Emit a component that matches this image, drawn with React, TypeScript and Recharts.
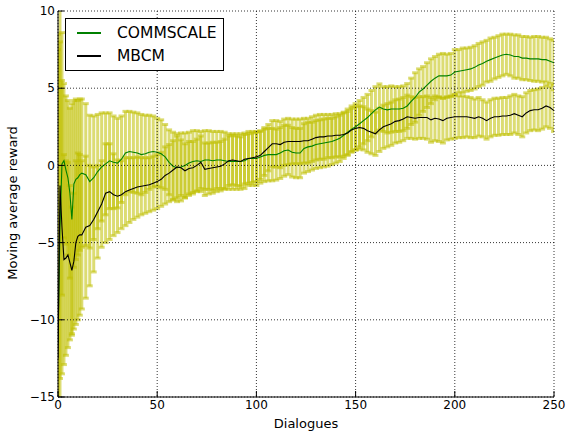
import {
  ComposedChart,
  Line,
  ErrorBar,
  XAxis,
  YAxis,
  CartesianGrid,
  Label,
} from 'recharts'

const dialogues = [
  0, 1, 2, 3, 4, 5, 6, 7, 8, 9, 10, 11, 12,
  14, 16, 18, 20, 22, 24, 26, 28, 30,
  32, 34, 36, 38, 40, 42, 44, 46, 48, 50,
  52, 54, 56, 58, 60, 62, 64, 66, 68, 70,
  72, 74, 76, 78, 80, 82, 84, 86, 88, 90,
  92, 94, 96, 98, 100, 102, 104, 106, 108, 110,
  112, 114, 116, 118, 120, 122, 124, 126, 128, 130,
  132, 134, 136, 138, 140, 142, 144, 146, 148, 150,
  152, 154, 156, 158, 160, 162, 164, 166, 168, 170,
  172, 174, 176, 178, 180, 182, 184, 186, 188, 190,
  192, 194, 196, 198, 200, 202, 204, 206, 208, 210,
  212, 214, 216, 218, 220, 222, 224, 226, 228, 230,
  232, 234, 236, 238, 240, 242, 244, 246, 248, 250,
]

const commscale = [
  -11.5, -4.0, 0.1, 0.3, -0.3, -0.8, -1.8, -3.5, -1.2, -0.9, -0.8, -0.6, -0.5,
  -0.6, -1.05, -0.8, -0.4, -0.1, 0.1, 0.3, 0.2, 0.15,
  0.4, 0.8, 0.9, 0.85, 0.8, 0.7, 0.75, 0.85, 0.9, 0.85,
  0.75, 0.55, 0.2, -0.05, -0.15, -0.1, 0.0, 0.15, 0.25, 0.3,
  0.25, 0.35, 0.35, 0.3, 0.35, 0.35, 0.3, 0.25, 0.25, 0.25,
  0.25, 0.3, 0.45, 0.45, 0.45, 0.55, 0.65, 0.7, 0.7, 0.7,
  0.8, 0.95, 1.0, 0.85, 0.8, 0.8, 1.1, 1.2, 1.25, 1.35,
  1.4, 1.45, 1.5, 1.55, 1.65, 1.75, 1.95, 2.15, 2.35, 2.5,
  2.7, 2.9, 3.1, 3.35, 3.6, 3.78, 3.65, 3.6, 3.65, 3.65,
  3.65, 3.7, 3.85, 4.15, 4.4, 4.75, 4.95, 5.2, 5.45, 5.65,
  5.8, 5.8, 5.8, 5.85, 6.05, 6.1, 6.15, 6.2, 6.25, 6.35,
  6.5, 6.6, 6.75, 6.85, 6.95, 7.05, 7.15, 7.2, 7.15, 7.05,
  7.05, 6.95, 6.95, 6.9, 6.9, 6.9, 6.85, 6.85, 6.75, 6.65,
]

const commscaleErr = [
  20, 12, 8.5, 5.0, 4.8, 5.0, 5.5, 7.5, 5.4, 5.2, 5.0, 4.9, 4.8,
  4.6, 4.3, 4.0, 3.7, 3.5, 3.3, 3.1, 3.0, 2.9,
  2.8, 2.7, 2.6, 2.6, 2.6, 2.6, 2.5, 2.4, 2.3, 2.2,
  2.2, 2.1, 2.1, 2.2, 2.2, 2.2, 2.1, 2.0, 2.0, 1.95,
  1.95, 1.9, 1.9, 1.9, 1.85, 1.85, 1.85, 1.8, 1.8, 1.8,
  1.8, 1.8, 1.75, 1.75, 1.75, 1.7, 1.7, 1.7, 1.7, 1.65,
  1.65, 1.65, 1.6, 1.6, 1.6, 1.6, 1.6, 1.6, 1.55, 1.55,
  1.55, 1.55, 1.55, 1.5, 1.5, 1.5, 1.5, 1.5, 1.5, 1.5,
  1.5, 1.5, 1.5, 1.5, 1.5, 1.5, 1.45, 1.5, 1.5, 1.45,
  1.45, 1.45, 1.45, 1.5, 1.6, 1.5, 1.45, 1.45, 1.45, 1.4,
  1.4, 1.45, 1.4, 1.4, 1.45, 1.4, 1.45, 1.4, 1.4, 1.4,
  1.4, 1.4, 1.35, 1.4, 1.35, 1.35, 1.35, 1.3, 1.35, 1.4,
  1.4, 1.4, 1.4, 1.4, 1.45, 1.45, 1.45, 1.45, 1.45, 1.45,
]

const mbcm = [
  -12.5, -1.3, -4.0, -6.1, -6.0, -5.8, -6.3, -6.8, -6.2, -5.0, -4.6, -4.5, -4.5,
  -4.0, -3.9, -3.5, -3.0, -2.5, -1.8, -1.7, -1.9, -2.0,
  -1.9, -1.7, -1.6, -1.5, -1.4, -1.35, -1.3, -1.25, -1.15, -1.05,
  -0.9, -0.65, -0.5, -0.3, -0.1, -0.15, -0.35, -0.2, -0.15, 0.0,
  0.2, -0.25, -0.2, -0.15, -0.1, -0.05, 0.1, 0.3, 0.35, 0.3,
  0.25, 0.4, 0.45, 0.5, 0.55, 0.65, 0.9, 1.15, 1.4, 1.4,
  1.35, 1.5, 1.55, 1.55, 1.55, 1.55, 1.6, 1.6, 1.7, 1.8,
  1.85, 1.85, 1.9, 1.9, 1.95, 1.95, 2.0, 2.1, 2.3, 2.4,
  2.45, 2.4, 2.25, 2.15, 2.05, 2.3, 2.5, 2.6, 2.7, 2.85,
  2.9, 3.0, 3.15, 3.1, 3.05, 3.1, 3.1, 3.1, 2.95, 3.05,
  3.0, 2.9, 3.05, 3.1, 3.15, 3.15, 3.15, 3.15, 3.1, 3.05,
  3.15, 3.05, 2.9, 3.05, 3.15, 3.15, 3.2, 3.2, 3.25, 3.35,
  3.25, 3.15, 3.4, 3.55, 3.6, 3.6, 3.7, 3.85, 3.75, 3.55,
]

const mbcmErr = [
  20, 12.5, 9.5, 6.8, 6.3, 6.0, 5.0, 4.1, 4.4, 5.3, 5.4, 5.2, 4.8,
  4.6, 3.9, 3.4, 3.0, 2.8, 3.2, 3.1, 2.65, 2.35,
  2.2, 2.2, 2.1, 2.0, 1.95, 1.85, 1.8, 1.75, 1.75, 1.75,
  1.75, 1.85, 1.85, 1.9, 2.0, 1.8, 1.75, 1.75, 1.7, 1.7,
  1.7, 1.7, 1.65, 1.65, 1.6, 1.6, 1.6, 1.6, 1.6, 1.6,
  1.6, 1.6, 1.6, 1.6, 1.6, 1.55, 1.55, 1.5, 1.5, 1.5,
  1.5, 1.5, 1.5, 1.45, 1.45, 1.45, 1.45, 1.45, 1.45, 1.45,
  1.45, 1.45, 1.4, 1.4, 1.4, 1.4, 1.4, 1.4, 1.4, 1.4,
  1.4, 1.4, 1.4, 1.4, 1.4, 1.4, 1.4, 1.4, 1.4, 1.4,
  1.4, 1.4, 1.4, 1.35, 1.35, 1.35, 1.35, 1.4, 1.45, 1.45,
  1.45, 1.45, 1.4, 1.4, 1.4, 1.35, 1.35, 1.3, 1.3, 1.25,
  1.25, 1.2, 1.2, 1.2, 1.2, 1.2, 1.2, 1.2, 1.25, 1.25,
  1.25, 1.3, 1.3, 1.3, 1.3, 1.35, 1.35, 1.35, 1.35, 1.35,
]

const xTicks = [0, 50, 100, 150, 200, 250]
const yTicks = [-15, -10, -5, 0, 5, 10]

const FONT = '"DejaVu Sans", sans-serif'
const BAR = '#bfbf00'

// plot box inside the 569x431 frame
const PLOT = { left: 58, top: 11, width: 496, height: 386 }

const rows = dialogues.map((x, i) => ({
  x,
  g: commscale[i],
  gErr: commscaleErr[i],
  b: mbcm[i],
  bErr: mbcmErr[i],
}))

const fmt = (v: number) => String(v).replace('-', '\u2212')
const tickStyle = { fill: '#000', fontSize: 12, fontFamily: FONT }

export default function App() {
  return (
    <div style={{ position: 'absolute', left: 0, top: 0, width: 569, height: 431, background: '#fff' }}>
      {/* series layer, sized to the plot box so the svg clips the error bars */}
      <div style={{ position: 'absolute', left: PLOT.left, top: PLOT.top, overflow: 'hidden' }}>
        <ComposedChart
          width={PLOT.width}
          height={PLOT.height}
          data={rows}
          margin={{ top: 0, right: 0, bottom: 0, left: 0 }}
        >
          <XAxis dataKey="x" type="number" domain={[0, 250]} allowDataOverflow hide />
          <YAxis type="number" domain={[-15, 10]} allowDataOverflow hide />
          <Line dataKey="g" stroke="none" dot={false} activeDot={false} isAnimationActive={false}>
            <ErrorBar dataKey="gErr" width={3} stroke={BAR} strokeWidth={3} strokeOpacity={0.55} isAnimationActive={false} />
          </Line>
          <Line dataKey="b" stroke="none" dot={false} activeDot={false} isAnimationActive={false}>
            <ErrorBar dataKey="bErr" width={3} stroke={BAR} strokeWidth={3} strokeOpacity={0.55} isAnimationActive={false} />
          </Line>
          <Line dataKey="g" type="linear" stroke="#008000" strokeWidth={1.1} dot={false} activeDot={false} isAnimationActive={false} />
          <Line dataKey="b" type="linear" stroke="#000" strokeWidth={1.1} dot={false} activeDot={false} isAnimationActive={false} />
        </ComposedChart>
      </div>

      {/* axes, ticks and grid on top (classic matplotlib draws the grid above) */}
      <div style={{ position: 'absolute', left: 0, top: 0 }}>
        <ComposedChart width={569} height={431} data={rows} margin={{ top: 11, right: 15, bottom: 0, left: 0 }}>
          <CartesianGrid stroke="#000" strokeWidth={0.8} strokeDasharray="1 2" />
          <XAxis
            dataKey="x"
            type="number"
            domain={[0, 250]}
            ticks={xTicks}
            allowDataOverflow
            height={34}
            tickSize={-6}
            tickMargin={9}
            axisLine={{ stroke: '#000' }}
            tickLine={{ stroke: '#000' }}
            tick={tickStyle}
          >
            <Label
              content={() => (
                <text x={306} y={428} textAnchor="middle" fontSize={13} fontFamily={FONT} fill="#000">
                  Dialogues
                </text>
              )}
            />
          </XAxis>
          <XAxis
            xAxisId="top"
            orientation="top"
            type="number"
            domain={[0, 250]}
            ticks={xTicks}
            allowDataOverflow
            height={0}
            tickSize={-6}
            tick={false}
            axisLine={{ stroke: '#000' }}
            tickLine={{ stroke: '#000' }}
          />
          <YAxis
            type="number"
            domain={[-15, 10]}
            ticks={yTicks}
            allowDataOverflow
            width={58}
            tickSize={-6}
            tickMargin={9}
            tickFormatter={fmt}
            axisLine={{ stroke: '#000' }}
            tickLine={{ stroke: '#000' }}
            tick={tickStyle}
          >
            <Label
              content={() => (
                <text
                  x={17}
                  y={203}
                  transform="rotate(-90 17 203)"
                  textAnchor="middle"
                  fontSize={13}
                  fontFamily={FONT}
                  fill="#000"
                >
                  Moving average reward
                </text>
              )}
            />
          </YAxis>
          <YAxis
            yAxisId="right"
            orientation="right"
            type="number"
            domain={[-15, 10]}
            ticks={yTicks}
            allowDataOverflow
            width={0}
            tickSize={-6}
            tick={false}
            axisLine={{ stroke: '#000' }}
            tickLine={{ stroke: '#000' }}
          />
        </ComposedChart>
      </div>

      <div
        style={{
          position: 'absolute',
          left: 65,
          top: 18,
          width: 157,
          height: 51,
          border: '1px solid #000',
          background: '#fff',
          fontFamily: FONT,
          fontSize: 15.5,
          color: '#000',
        }}
      >
        <div style={{ position: 'absolute', left: 11, top: 13, width: 24, height: 1.5, background: '#008000' }} />
        <div style={{ position: 'absolute', left: 51, top: 3, lineHeight: '22px' }}>COMMSCALE</div>
        <div style={{ position: 'absolute', left: 11, top: 36, width: 24, height: 1.5, background: '#000' }} />
        <div style={{ position: 'absolute', left: 51, top: 26, lineHeight: '22px' }}>MBCM</div>
      </div>
    </div>
  )
}
